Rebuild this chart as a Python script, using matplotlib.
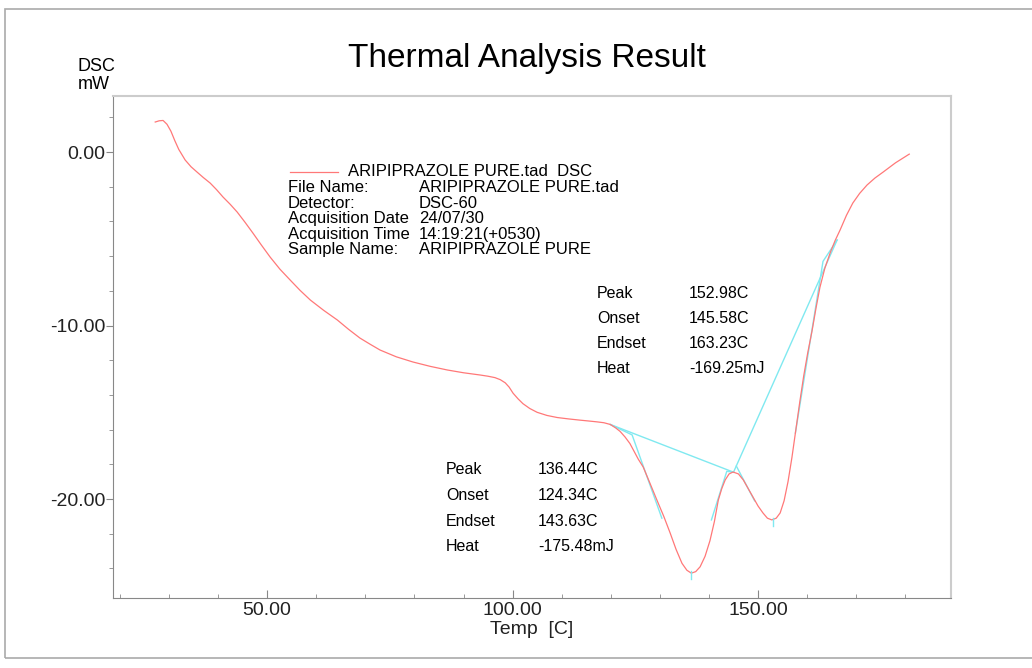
import numpy as np
import matplotlib.pyplot as plt
from matplotlib.patches import Rectangle
from matplotlib.ticker import MultipleLocator, FormatStrFormatter

plt.rcParams['font.family'] = ['Liberation Sans', 'DejaVu Sans']

# DSC curve (Temp [C], DSC [mW])
temp = [27.2, 28.0, 28.8, 29.6, 30.4, 31.2, 32.0, 33.3, 34.5, 35.7, 37.0, 38.4,
        39.7, 41.0, 42.5, 43.9, 45.5, 47.1, 48.8, 50.6, 52.6, 54.7, 56.7, 58.8,
        61.5, 64.3, 66.6, 68.9, 71.0, 73.0, 76.3, 79.7, 83.2, 86.7, 90.0, 93.4,
        95.0, 96.4, 97.5, 98.5, 99.3, 100.1, 101.1, 102.1, 103.5, 105.0, 107.0,
        109.1, 111.4, 113.7, 115.5, 117.2, 118.6, 119.9, 121.0, 121.9, 122.9,
        123.9, 125.6, 126.6, 128.0, 129.4, 130.8, 132.1, 133.3, 134.5, 135.5,
        136.4, 137.3, 138.2, 139.2, 140.2, 141.1, 141.9, 142.6, 143.3, 144.1,
        144.9, 146.0, 147.0, 148.0, 149.0, 150.0, 151.0, 151.9, 152.8, 153.7,
        154.5, 155.3, 156.1, 156.9, 157.7, 158.5, 159.3, 160.1, 161.0, 161.8, 162.6,
        163.6, 164.7, 165.7, 166.7, 168.0, 169.3, 170.7, 172.2, 173.8, 175.5,
        178.0, 180.8]
dsc = [1.73, 1.80, 1.82, 1.60, 1.20, 0.65, 0.15, -0.46, -0.85, -1.15, -1.47, -1.79,
       -2.17, -2.59, -3.02, -3.46, -4.05, -4.67, -5.35, -6.05, -6.75, -7.38, -7.97, -8.53,
       -9.12, -9.68, -10.22, -10.72, -11.08, -11.41, -11.80, -12.10, -12.35, -12.56, -12.72, -12.85,
       -12.92, -13.0, -13.12, -13.3, -13.55, -13.9, -14.22, -14.5, -14.78, -15.0, -15.18,
       -15.3, -15.38, -15.45, -15.5, -15.55, -15.6, -15.7, -15.9, -16.1, -16.42,
       -16.8, -17.7, -18.15, -19.1, -20.06, -21.0, -21.96, -22.9, -23.7, -24.1,
       -24.27, -24.18, -23.9, -23.3, -22.4, -21.3, -20.06, -19.4, -18.9, -18.55,
       -18.44, -18.55, -18.9, -19.4, -19.9, -20.4, -20.8, -21.1, -21.2, -21.1,
       -20.8, -20.1, -19.0, -17.6, -16.0, -14.4, -12.9, -11.6, -10.3, -9.0, -7.8,
       -6.7, -5.8, -5.1, -4.5, -3.65, -2.94, -2.38, -1.9, -1.5, -1.15,
       -0.62, -0.12]

# analysis construction lines (cyan)
baseline1_x = [119.9, 145.0]
baseline1_y = [-15.7, -18.45]
onset1_x = [119.9, 124.34, 130.4]
onset1_y = [-15.7, -16.3, -21.1]
endset1_x = [140.5, 143.63, 145.0]
endset1_y = [-21.2, -18.4, -18.45]
baseline2_x = [145.0, 166.1]
baseline2_y = [-18.45, -5.07]
onset2_x = [145.58, 149.3]
onset2_y = [-18.1, -20.1]
endset2_x = [157.6, 163.23, 166.1]
endset2_y = [-16.2, -6.3, -5.07]
peak_t = [136.44, 152.98]
peak_y = [-24.27, -21.2]

info_labels = ['File Name:', 'Detector:', 'Acquisition Date', 'Acquisition Time', 'Sample Name:']
info_values = ['ARIPIPRAZOLE PURE.tad', 'DSC-60', '24/07/30', '14:19:21(+0530)', 'ARIPIPRAZOLE PURE']
res_labels = ['Peak', 'Onset', 'Endset', 'Heat']
res_peak2 = ['152.98C', '145.58C', '163.23C', '-169.25mJ']
res_peak1 = ['136.44C', '124.34C', '143.63C', '-175.48mJ']

fig = plt.figure(figsize=(10.32, 6.68), dpi=100)
ax = fig.add_axes([0.1095, 0.1048, 0.812, 0.7515])

red = '#ff7878'
cyan = '#80e9f0'
ax.plot(temp, dsc, color=red, lw=0.9, zorder=3)
for xs, ys in [(baseline1_x, baseline1_y), (onset1_x, onset1_y), (endset1_x, endset1_y),
               (baseline2_x, baseline2_y), (onset2_x, onset2_y), (endset2_x, endset2_y)]:
    ax.plot(xs, ys, color=cyan, lw=1.0, zorder=2)
for t, y in zip(peak_t, peak_y):
    ax.plot([t, t], [y - 0.35, y + 0.1], color=cyan, lw=1.0, zorder=4)

ax.set_xlim(18.6, 189.3)
ax.set_ylim(-25.7, 3.23)
ax.xaxis.set_major_locator(MultipleLocator(50))
ax.xaxis.set_minor_locator(MultipleLocator(10))
ax.yaxis.set_major_locator(MultipleLocator(10))
ax.yaxis.set_minor_locator(MultipleLocator(2))
ax.xaxis.set_major_formatter(FormatStrFormatter('%.2f'))
ax.yaxis.set_major_formatter(FormatStrFormatter('%.2f'))
ax.tick_params(axis='x', which='major', direction='in', length=6, colors='#888888',
               labelcolor='#222222', labelsize=14, pad=3)
ax.tick_params(axis='x', which='minor', direction='in', length=3, colors='#888888')
ax.tick_params(axis='y', which='major', direction='out', length=5, colors='#888888',
               labelcolor='#222222', labelsize=14, pad=0.5)
ax.tick_params(axis='y', which='minor', direction='out', length=3, colors='#888888')
for s in ['left', 'bottom']:
    ax.spines[s].set_color('#888888')
for s in ['top', 'right']:
    ax.spines[s].set_color('#cccccc')
    ax.spines[s].set_linewidth(1.5)

ax.set_xlabel('Temp  [C]', fontsize=14, color='#222222', labelpad=1)

fig.text(0.511, 0.912, 'Thermal Analysis Result', fontsize=24, ha='center', va='center')
fig.text(0.0755, 0.900, 'DSC', fontsize=13, ha='left', va='center')
fig.text(0.0755, 0.873, 'mW', fontsize=13, ha='left', va='center')

# legend line and info block
fig.lines.append(plt.Line2D([290 / 1032, 338 / 1032], [1 - 172 / 668, 1 - 172 / 668],
                            color=red, lw=0.9, transform=fig.transFigure))
fig.text(348 / 1032, 1 - 172 / 668, 'ARIPIPRAZOLE PURE.tad  DSC', fontsize=12, va='center')
for i, (lab, val) in enumerate(zip(info_labels, info_values)):
    yy = 1 - (188 + i * 15.4) / 668
    fig.text(288 / 1032, yy, lab, fontsize=12, va='center')
    fig.text(419 / 1032, yy, val, fontsize=12, va='center')

for i, (lab, val) in enumerate(zip(res_labels, res_peak2)):
    yy = 1 - (293 + i * 25.3) / 668
    fig.text(597 / 1032, yy, lab, fontsize=11.5, va='center')
    fig.text(689 / 1032, yy, val, fontsize=11.5, va='center')
for i, (lab, val) in enumerate(zip(res_labels, res_peak1)):
    yy = 1 - (470 + i * 25.5) / 668
    fig.text(446 / 1032, yy, lab, fontsize=11.5, va='center')
    fig.text(538 / 1032, yy, val, fontsize=11.5, va='center')

# outer frame
fig.patches.append(Rectangle((5 / 1032, 1 - 658 / 668), 1.2, (658 - 9) / 668,
                             transform=fig.transFigure, fill=False,
                             edgecolor='#aaaaaa', lw=1.2))

fig.savefig('out.png', dpi=100)
